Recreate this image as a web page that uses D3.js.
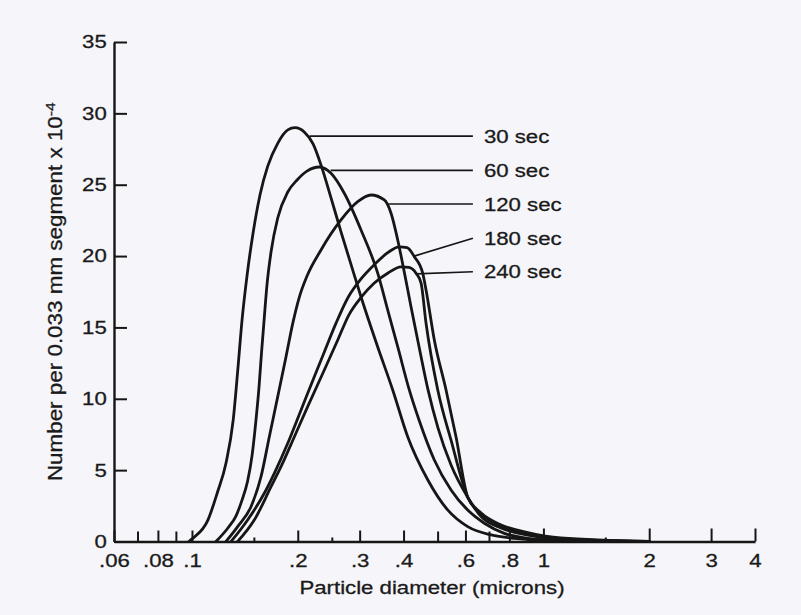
<!DOCTYPE html>
<html><head><meta charset="utf-8">
<script src="https://cdn.jsdelivr.net/npm/d3@7"></script>
<style>
html,body{margin:0;padding:0;background:#f6f5f9;}
svg{display:block;}
text{font-family:"Liberation Sans",Arial,Helvetica,sans-serif;fill:#1a1a1a;stroke:#1a1a1a;stroke-width:0.3px;}
</style></head><body>
<svg id="chart" width="801" height="615"></svg>
<script>
// ---- data ----
const seriesLabels = ["30 sec", "60 sec", "120 sec", "180 sec", "240 sec"];

const d30 = [0.098,0.1005,0.111,0.118,0.125,0.131,0.135,0.1388,0.1434,0.1492,0.1562,0.1643,0.1754,0.1873,0.1965,0.2087,0.2211,0.2337,0.2487,0.2655,0.2836,0.3047,0.3362,0.3726,0.411,0.469,0.534,0.609,0.71,0.827,0.985,1.46,2.0];
const n30 = [0,0.22,1.5,3.4,5.5,8.5,12.0,15.5,18.6,21.6,24.3,26.3,27.9,28.84,29.0,28.7,27.86,26.27,24.08,21.7,19.4,16.92,13.77,10.62,7.34,4.31,2.21,1.04,0.46,0.22,0.1,0.03,0];

const d60 = [0.117,0.1264,0.1335,0.1388,0.1439,0.1482,0.1521,0.1552,0.1577,0.1604,0.1635,0.1679,0.1754,0.1873,0.1991,0.213,0.2303,0.2487,0.2713,0.3027,0.3377,0.3605,0.3858,0.4153,0.4427,0.4893,0.546,0.609,0.679,0.774,0.903,1.12,2.0];
const n60 = [0,0.93,1.8,2.9,4.2,6.0,8.5,10.85,13.2,15.5,18.0,20.3,22.67,24.49,25.33,25.97,26.24,25.8,24.4,21.83,18.8,16.23,13.56,10.62,8.51,5.71,3.61,2.2,1.28,0.57,0.22,0.07,0];

const d120 = [0.125,0.1349,0.1472,0.1572,0.166,0.1754,0.1852,0.1939,0.2017,0.2125,0.2329,0.2655,0.2962,0.3232,0.3526,0.3685,0.385,0.4025,0.42,0.4427,0.4696,0.5014,0.546,0.609,0.665,0.758,0.903,1.12,2.0];
const n120 = [0,1.04,2.44,4.54,7.34,10.15,12.95,15.37,17.06,18.6,20.43,22.53,23.81,24.28,23.93,23.0,21.13,18.8,16.45,13.65,10.62,7.95,5.36,3.1,1.74,0.95,0.45,0.15,0];

const d180 = [0.1292,0.144,0.1606,0.1715,0.1873,0.2044,0.2229,0.238,0.257,0.278,0.3027,0.3318,0.3637,0.3883,0.4094,0.4292,0.4535,0.4635,0.4893,0.5284,0.564,0.609,0.665,0.758,0.903,1.12,2.0];
const n180 = [0,1.51,3.38,4.78,6.88,9.22,11.55,13.28,15.3,17.1,18.4,19.45,20.3,20.65,20.6,19.96,18.8,17.62,14.12,10.62,7.34,3.1,1.93,1.1,0.56,0.2,0];

const d240 = [0.1349,0.1504,0.1679,0.1792,0.1956,0.2134,0.238,0.2599,0.2799,0.3027,0.3297,0.3605,0.3934,0.4145,0.434,0.4486,0.4635,0.5005,0.546,0.609,0.665,0.758,0.903,1.12,2.0];
const n240 = [0,1.5,3.84,5.24,7.34,9.45,12.02,14.12,15.9,17.1,18.1,18.8,19.25,19.2,18.8,18.1,15.29,10.62,7.1,3.1,2.0,1.16,0.63,0.25,0];

const xTickValues = [0.06,0.08,0.1,0.2,0.3,0.4,0.6,0.8,1,2,3,4];
const xTickLabels = [".06",".08",".1",".2",".3",".4",".6",".8","1","2","3","4"];
const xMidTicks = [0.07,0.09,0.5,0.7];
const xSmallTicks = [0.15,0.25,0.9,1.5];
const yTickValues = [0,5,10,15,20,25,30,35];

// annotation anchors (data units)
const leaderD = [0.216,0.248,0.362,0.429,0.434];
const leaderN = [28.4,26.0,23.65,20.0,18.75];
const labelN  = [28.4,26.0,23.65,21.25,18.9];
const labelD  = 0.63;

const xTitle = "Particle diameter (microns)";
const yTitle = "Number per 0.033 mm segment x 10";
const yTitleExp = "-4";

// ---- drawing ----
const svg = d3.select("#chart");
const ink = "#161616";
const FS = 18.5, SX = 1.2;

const x = d3.scaleLog().domain([0.06,4]).range([114,755]);
const y = d3.scaleLinear().domain([0,35]).range([541.5,42]);

// y axis
const yAxis = svg.append("g").attr("transform","translate(114,0)")
  .call(d3.axisLeft(y).tickValues(yTickValues).tickSizeInner(-13).tickSizeOuter(0).tickPadding(6));
yAxis.select(".domain").attr("stroke",ink).attr("stroke-width",2.4);
yAxis.selectAll(".tick line").attr("stroke",ink).attr("stroke-width",2);
yAxis.selectAll(".tick text").attr("font-size",FS).attr("fill",ink)
  .attr("font-family","'Liberation Sans',Arial,sans-serif")
  .attr("transform",`scale(${SX},1)`);

// x axis
const xAxis = svg.append("g").attr("transform","translate(0,541.5)")
  .call(d3.axisBottom(x).tickValues(xTickValues).tickFormat((d,i)=>xTickLabels[i])
    .tickSizeInner(-11).tickSizeOuter(0).tickPadding(12));
xAxis.select(".domain").attr("stroke",ink).attr("stroke-width",2.4);
xAxis.selectAll(".tick line").attr("stroke",ink).attr("stroke-width",2)
  .attr("y2", d => d >= 1 ? -13 : -11);
xAxis.selectAll(".tick text").attr("font-size",FS).attr("fill",ink)
  .attr("font-family","'Liberation Sans',Arial,sans-serif")
  .attr("transform",`scale(${SX},1)`);

const xMid = svg.append("g").attr("transform","translate(0,541.5)")
  .call(d3.axisBottom(x).tickValues(xMidTicks).tickFormat(()=>"").tickSizeInner(-10).tickSizeOuter(0));
xMid.select(".domain").remove();
xMid.selectAll(".tick line").attr("stroke",ink).attr("stroke-width",2);

const xSmall = svg.append("g").attr("transform","translate(0,541.5)")
  .call(d3.axisBottom(x).tickValues(xSmallTicks).tickFormat(()=>"").tickSizeInner(-4).tickSizeOuter(0));
xSmall.select(".domain").remove();
xSmall.selectAll(".tick line").attr("stroke",ink).attr("stroke-width",2);

// curves
const series = [[d30,n30],[d60,n60],[d120,n120],[d180,n180],[d240,n240]];
const line = d3.line().x(p=>x(p[0])).y(p=>y(p[1])).curve(d3.curveMonotoneX);
svg.append("g").selectAll("path").data(series).join("path")
  .attr("d", s => line(d3.zip(s[0], s[1])))
  .attr("fill","none").attr("stroke",ink).attr("stroke-width",2.8)
  .attr("stroke-linejoin","round").attr("stroke-linecap","round");

// leader lines and labels
const ann = svg.append("g");
seriesLabels.forEach((lab,i)=>{
  ann.append("line")
    .attr("x1", x(leaderD[i])).attr("y1", y(leaderN[i]))
    .attr("x2", x(labelD)).attr("y2", y(labelN[i]))
    .attr("stroke",ink).attr("stroke-width",1.7);
  ann.append("text")
    .attr("transform",`translate(${x(labelD)+11},${y(labelN[i])}) scale(${SX},1)`)
    .attr("dy","0.36em").attr("font-size",FS).text(lab);
});

// axis titles
svg.append("text")
  .attr("transform",`translate(${x(0.06)+318},593.5) scale(${SX},1)`)
  .attr("text-anchor","middle").attr("font-size",FS).text(xTitle);

const yt = svg.append("text")
  .attr("transform",`translate(62,${y(17.5)}) rotate(-90) scale(1.15,1)`)
  .attr("text-anchor","middle").attr("font-size",19.5);
yt.append("tspan").text(yTitle);
yt.append("tspan").attr("font-size",13.5).attr("dy",-7).text(yTitleExp);
</script>
</body></html>
